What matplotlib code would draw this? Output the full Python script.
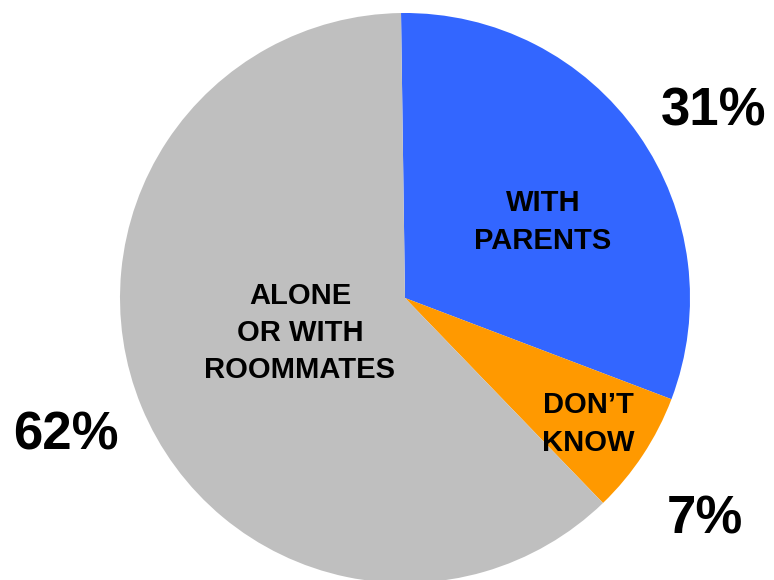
import matplotlib.pyplot as plt

# data
labels = ["WITH\nPARENTS", "DON\u2019T\nKNOW", "ALONE\nOR WITH\nROOMMATES"]
values = [31, 7, 62]
pct_labels = ["31%", "7%", "62%"]
colors = ["#3366FF", "#FF9900", "#BFBFBF"]

plt.rcParams['font.family'] = ['Liberation Sans', 'DejaVu Sans']

fig = plt.figure(figsize=(7.74, 5.8), dpi=100)
ax = fig.add_axes([0, 0, 1, 1])

# pixel layout of the reference
cx, cy, r = 405, 298, 285
W, H = 774, 580

def px(x, y):
    return (x - cx) / r, (cy - y) / r

ax.pie(values, colors=colors, startangle=90.8, counterclock=False,
       radius=1, center=(0, 0), wedgeprops=dict(linewidth=0))

ax.set_xlim(-cx / r, (W - cx) / r)
ax.set_ylim((cy - H) / r, cy / r)
ax.set_aspect('equal')
ax.axis('off')

# inner labels
inner_pos = [(543, 222), (588, 424), (300, 333)]
for lab, (x, y) in zip(labels, inner_pos):
    ax.text(*px(x, y), lab, ha='center', va='center', fontsize=21,
            fontweight='bold', linespacing=1.42)

# outer percentages
outer_pos = [(714, 112), (705, 520), (66, 435)]
for lab, (x, y) in zip(pct_labels, outer_pos):
    ax.text(*px(x, y), lab, ha='center', va='center', fontsize=38,
            fontweight='bold')

fig.savefig("out.png", dpi=100)
